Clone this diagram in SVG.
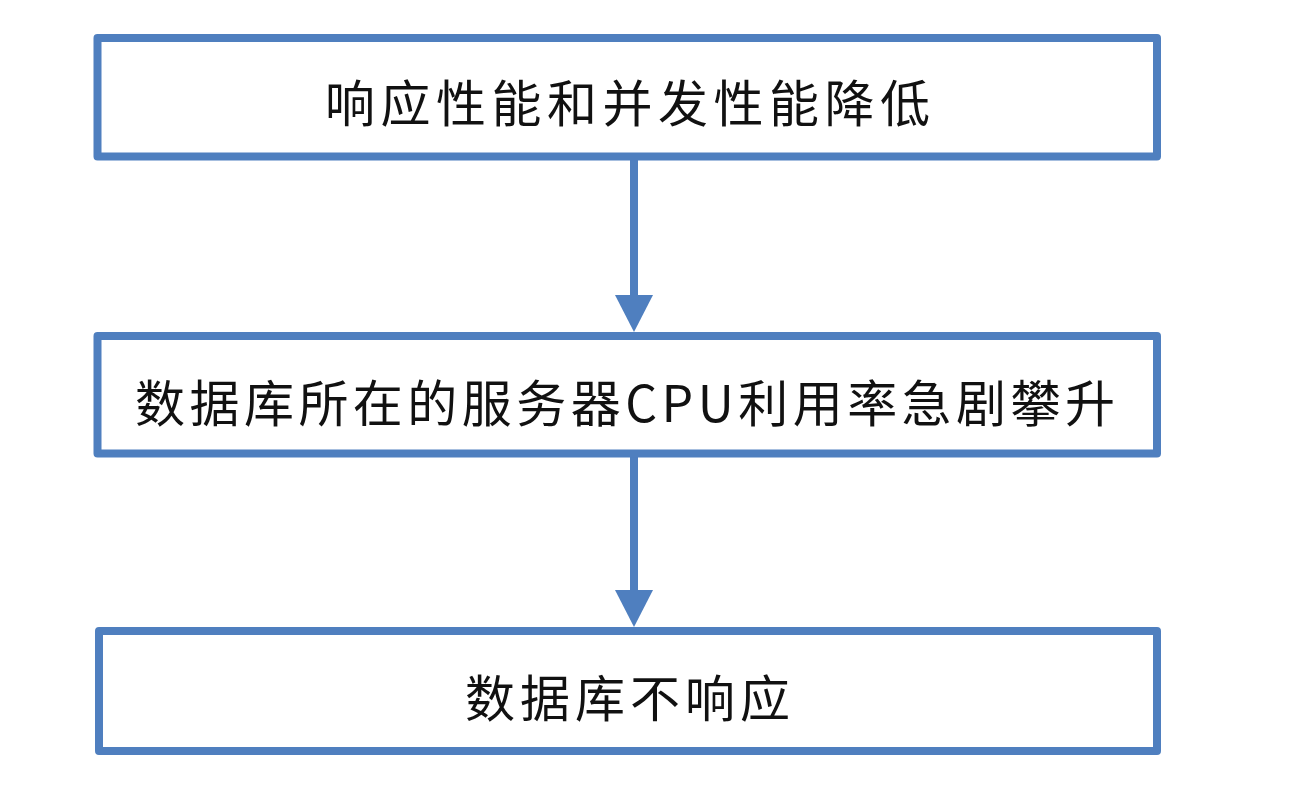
<svg xmlns="http://www.w3.org/2000/svg" width="1306" height="790" viewBox="0 0 1306 790">
<style>
.box{fill:#ffffff;stroke:#4F7FBF;stroke-width:8;stroke-linejoin:round}
.lbl{font-family:"Noto Sans CJK SC","Noto Sans",sans-serif;font-size:50px;fill:#111;text-anchor:middle;dominant-baseline:central}
.edge{stroke:#4F7FBF;stroke-width:8;fill:none}
.head{fill:#4F7FBF}
</style>
<rect width="1306" height="790" fill="#ffffff"/>
<g id="connectors">
<line class="edge" x1="634" y1="156" x2="634" y2="298"/>
<polygon class="head" points="615,295 653,295 634,332"/>
<line class="edge" x1="634" y1="454" x2="634" y2="593"/>
<polygon class="head" points="615,590 653,590 634,627"/>
</g>
<g id="node1">
<rect class="box" x="97.5" y="38" width="1059.5" height="118.5"/>
<text class="lbl" x="627.5" y="100" textLength="605" lengthAdjust="spacing">响应性能和并发性能降低</text>
</g>
<g id="node2">
<rect class="box" x="97.5" y="336" width="1059.5" height="117.5"/>
<text class="lbl" x="625" y="400" textLength="980" lengthAdjust="spacing">数据库所在的服务器CPU利用率急剧攀升</text>
</g>
<g id="node3">
<rect class="box" x="99" y="631" width="1058" height="120"/>
<text class="lbl" x="627.5" y="695" textLength="325" lengthAdjust="spacing">数据库不响应</text>
</g>
</svg>
